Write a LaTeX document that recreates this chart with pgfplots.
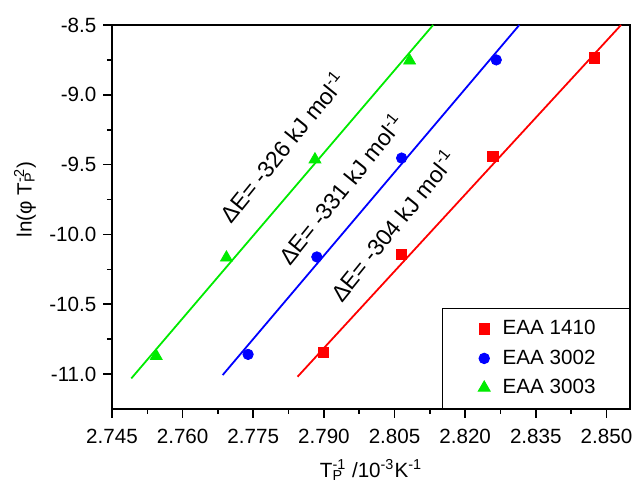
\documentclass[border=0pt]{standalone}
\usepackage{fontspec}
\setmainfont{Liberation Sans}
\usepackage{pgfplots}
\pgfplotsset{compat=1.18}
\definecolor{mred}{RGB}{255,0,0}
\definecolor{mblue}{RGB}{0,0,255}
\definecolor{mgreen}{RGB}{0,235,0}
\begin{document}
\begin{tikzpicture}
\useasboundingbox (-56pt,-38.5pt) rectangle (260.5pt,204.5pt);
\begin{axis}[
  at={(0,0)}, anchor=south west,
  scale only axis, width=259pt, height=192pt,
  xmin=2.745, xmax=2.855, ymin=-11.25, ymax=-8.5,
  xtick={2.745,2.760,2.775,2.790,2.805,2.820,2.835,2.850},
  ytick={-11,-10.5,-10,-9.5,-9,-8.5},
  minor x tick num=1, minor y tick num=1,
  scaled ticks=false,
  tick pos=left, tick align=outside,
  major tick length=4.3pt, minor tick length=2.5pt,
  axis line style={line width=1pt},
  every tick/.style={black, line width=0.8pt},
  /pgf/number format/assume math mode=true,
  tick label style={font=\fontsize{10.3}{12}\selectfont},
  x tick label style={yshift=-2pt, /pgf/number format/fixed, /pgf/number format/fixed zerofill, /pgf/number format/precision=3},
  y tick label style={/pgf/number format/fixed, /pgf/number format/fixed zerofill, /pgf/number format/precision=1},
  xlabel={T\rlap{\textsubscript{P}}\textsuperscript{-1} /10\textsuperscript{-3}K\textsuperscript{-1}},
  ylabel={ln(φ T\rlap{\textsubscript{P}}\textsuperscript{-2})},
  label style={font=\fontsize{10.3}{12}\selectfont},
  xlabel style={at={(axis description cs:0.5,-0.159)}, anchor=center},
  ylabel style={at={(axis description cs:-0.168,0.5456)}, anchor=center},
  legend image code/.code={\path (-10.5pt,0pt) (7pt,0pt); \draw[#1] plot coordinates {(0pt,0pt)};},
  legend style={at={(1,0)}, anchor=south east, draw=black, line width=0.5pt,
    font=\fontsize{10.3}{12}\selectfont, inner xsep=10pt, inner ysep=4pt,
    row sep=2pt, cells={anchor=west}},
]
\addplot[only marks, mark=square*, mark size=2.6pt, color=mred] coordinates {
  (2.7899,-10.845) (2.8065,-10.144) (2.8259,-9.439) (2.8475,-8.736)};
\addlegendentry{EAA 1410\hspace*{5pt}}
\addplot[only marks, mark=*, mark size=2.6pt, color=mblue] coordinates {
  (2.7739,-10.859) (2.7885,-10.161) (2.8065,-9.453) (2.8266,-8.750)};
\addlegendentry{EAA 3002\hspace*{5pt}}
\addplot[only marks, mark=triangle*, mark size=3.4pt, color=mgreen] coordinates {
  (2.7544,-10.871) (2.7693,-10.166) (2.7881,-9.463) (2.8082,-8.755)};
\addlegendentry{EAA 3003\hspace*{5pt}}
\addplot[mred, line width=0.9pt, forget plot] coordinates {(2.7844,-11.019) (2.8531,-8.5)};
\addplot[mblue, line width=0.9pt, forget plot] coordinates {(2.7685,-11.007) (2.8315,-8.5)};
\addplot[mgreen, line width=0.9pt, forget plot] coordinates {(2.7491,-11.031) (2.8132,-8.5)};
\node[rotate=51, anchor=base west, inner sep=0pt, font=\fontsize{11.5}{13}\selectfont] at (axis cs:2.7704,-9.933) {ΔE= -326 kJ mol\textsuperscript{-1}};
\node[rotate=51, anchor=base west, inner sep=0pt, font=\fontsize{11.5}{13}\selectfont] at (axis cs:2.7828,-10.231) {ΔE= -331 kJ mol\textsuperscript{-1}};
\node[rotate=51, anchor=base west, inner sep=0pt, font=\fontsize{11.5}{13}\selectfont] at (axis cs:2.7938,-10.494) {ΔE= -304 kJ mol\textsuperscript{-1}};
\end{axis}
\end{tikzpicture}
\end{document}
